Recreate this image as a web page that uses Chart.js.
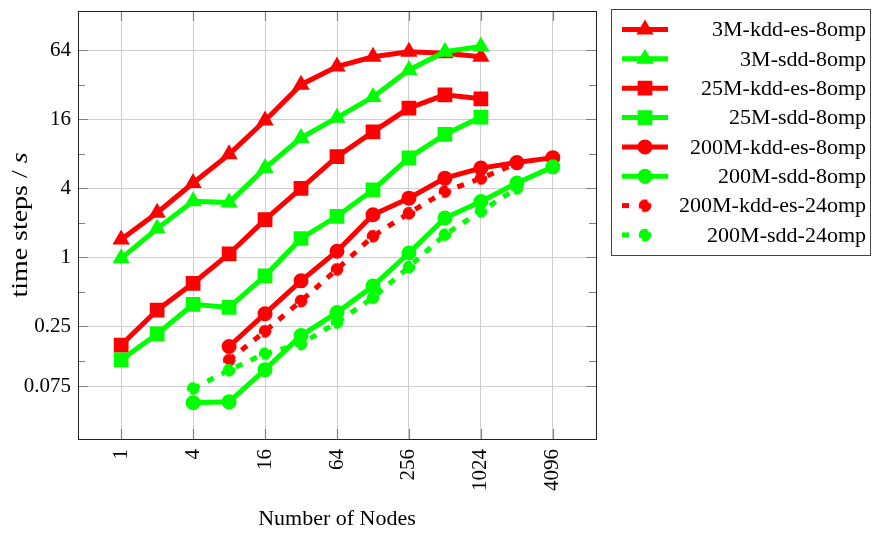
<!DOCTYPE html>
<html>
<head>
<meta charset="utf-8">
<script src="https://cdn.jsdelivr.net/npm/chart.js@4.4.0/dist/chart.umd.min.js"></script>
<style>
  html, body { margin: 0; padding: 0; background: #fff; }
  canvas { display: block; }
</style>
</head>
<body>
<canvas id="scaling" width="872" height="533"></canvas>
<script>
// number of nodes on the x axis
const nodes = [1, 2, 4, 8, 16, 32, 64, 128, 256, 512, 1024, 2048, 4096]

// time steps per second, null where a run is missing
const kdd3M = [1.43, 2.45, 4.45, 7.9, 15.6, 32, 46, 56, 62, 60, 56, null, null]
const sdd3M = [0.98, 1.78, 3.08, 3.0, 6.0, 11.0, 16.5, 25, 43, 62, 69, null, null]
const kdd25M = [0.172, 0.346, 0.594, 1.07, 2.13, 4.0, 7.55, 12.4, 20, 26.1, 24.1, null, null]
const sdd25M = [0.128, 0.215, 0.39, 0.366, 0.69, 1.46, 2.28, 3.87, 7.37, 11.8, 16.7, null, null]
const kdd200M8 = [null, null, null, 0.167, 0.323, 0.624, 1.13, 2.35, 3.28, 4.9, 6.0, 6.7, 7.4]
const sdd200M8 = [null, null, 0.054, 0.055, 0.105, 0.208, 0.33, 0.563, 1.09, 2.2, 3.07, 4.45, 6.15]
const kdd200M24 = [null, null, null, 0.127, 0.227, 0.417, 0.786, 1.53, 2.43, 3.75, 4.88, 6.6, null]
const sdd200M24 = [null, null, 0.072, 0.104, 0.145, 0.176, 0.271, 0.446, 0.824, 1.58, 2.52, 4.0, null]

const seriesNames = [
  '3M-kdd-es-8omp', '3M-sdd-8omp', '25M-kdd-es-8omp', '25M-sdd-8omp',
  '200M-kdd-es-8omp', '200M-sdd-8omp', '200M-kdd-es-24omp', '200M-sdd-24omp'
]

const xTicks = [1, 4, 16, 64, 256, 1024, 4096]
const yTicks = [0.075, 0.125, 0.25, 0.5, 1, 2, 4, 8, 16, 32, 64]
const yLabels = ['0.075', '', '0.25', '', '1', '', '4', '', '16', '', '64']

const RED = '#ff0000'
const GREEN = '#00ff00'
const SERIF = '"Liberation Serif", "Times New Roman", serif'

// filled circle with a dashed outline, like the dashed pgf marks
function notchedMark(color) {
  const c = document.createElement('canvas')
  c.width = 16
  c.height = 16
  const g = c.getContext('2d')
  g.fillStyle = color
  g.beginPath()
  g.arc(8, 8, 5, 0, 2 * Math.PI)
  g.fill()
  g.strokeStyle = color
  g.lineWidth = 2.6
  g.setLineDash([12.5, 3.2])
  g.beginPath()
  g.arc(8, 8, 5, 2.6, 2.6 + 2 * Math.PI)
  g.stroke()
  return c
}

function toPoints(values) {
  const pts = []
  values.forEach((v, i) => {
    if (v !== null) pts.push({ x: nodes[i], y: v })
  })
  return pts
}

function series(i, values, color, style, radius, dashed) {
  return {
    label: seriesNames[i],
    data: toPoints(values),
    borderColor: color,
    backgroundColor: color,
    borderWidth: 5,
    borderDash: dashed ? [7, 9] : [],
    pointStyle: style,
    pointRadius: radius,
    pointBorderWidth: dashed ? 0 : 2,
    pointBackgroundColor: color,
    pointBorderColor: color,
    tension: 0,
    order: 10 - i
  }
}

const datasets = [
  series(0, kdd3M, RED, 'triangle', 8),
  series(1, sdd3M, GREEN, 'triangle', 8),
  series(2, kdd25M, RED, 'rect', 9),
  series(3, sdd25M, GREEN, 'rect', 9),
  series(4, kdd200M8, RED, 'circle', 6.5),
  series(5, sdd200M8, GREEN, 'circle', 6.5),
  series(6, kdd200M24, RED, notchedMark(RED), 6, true),
  series(7, sdd200M24, GREEN, notchedMark(GREEN), 6, true)
]

const isMajorY = v => yLabels[yTicks.indexOf(v)] !== ''

const frame = {
  id: 'frame',
  afterDraw(chart) {
    const ctx = chart.ctx
    const a = chart.chartArea
    const xs = chart.scales.x
    const ys = chart.scales.y
    ctx.save()

    // inward tick marks on all four sides
    ctx.strokeStyle = '#808080'
    ctx.lineWidth = 1.2
    ctx.beginPath()
    xTicks.forEach(v => {
      const px = Math.round(xs.getPixelForValue(v)) + 0.5
      ctx.moveTo(px, a.bottom); ctx.lineTo(px, a.bottom - 10)
      ctx.moveTo(px, a.top); ctx.lineTo(px, a.top + 10)
    })
    yTicks.forEach(v => {
      const py = Math.round(ys.getPixelForValue(v)) + 0.5
      const len = isMajorY(v) ? 10 : 7
      ctx.moveTo(a.left, py); ctx.lineTo(a.left + len, py)
      ctx.moveTo(a.right, py); ctx.lineTo(a.right - len, py)
    })
    ctx.stroke()

    // plot border
    ctx.strokeStyle = '#222'
    ctx.lineWidth = 1
    ctx.strokeRect(Math.round(a.left) + 0.5, Math.round(a.top) + 0.5,
      Math.round(a.right - a.left), Math.round(a.bottom - a.top))

    // axis titles
    ctx.fillStyle = '#000'
    ctx.font = '22px ' + SERIF
    ctx.textAlign = 'center'
    ctx.textBaseline = 'middle'
    ctx.fillText('Number of Nodes', (a.left + a.right) / 2, 519)

    ctx.translate(21, (a.top + a.bottom) / 2)
    ctx.rotate(-Math.PI / 2)
    const head = 'time steps / '
    ctx.font = '23px ' + SERIF
    const w1 = ctx.measureText(head).width
    ctx.font = 'italic 23px ' + SERIF
    const w2 = ctx.measureText('s').width
    ctx.scale(145 / (w1 + w2), 1)
    ctx.textAlign = 'left'
    ctx.font = '23px ' + SERIF
    ctx.fillText(head, -(w1 + w2) / 2, 0)
    ctx.font = 'italic 23px ' + SERIF
    ctx.fillText('s', -(w1 + w2) / 2 + w1, 0)
    ctx.restore()

    // legend
    ctx.save()
    ctx.strokeStyle = '#444'
    ctx.lineWidth = 1
    ctx.strokeRect(611.5, 9.5, 259, 246)
    ctx.font = '22px ' + SERIF
    ctx.textAlign = 'right'
    ctx.textBaseline = 'middle'
    chart.data.datasets.forEach((ds, i) => {
      const y = 29.5 + i * 29.35
      ctx.strokeStyle = ds.borderColor
      ctx.fillStyle = ds.borderColor
      ctx.lineWidth = 5
      ctx.beginPath()
      if (ds.borderDash.length) {
        ctx.moveTo(622, y); ctx.lineTo(629, y)
      } else {
        ctx.moveTo(622, y); ctx.lineTo(668, y)
      }
      ctx.stroke()
      ctx.lineWidth = ds.pointBorderWidth
      Chart.helpers.drawPoint(ctx, {
        pointStyle: ds.pointStyle,
        rotation: 0,
        radius: ds.pointRadius,
        borderWidth: ds.pointBorderWidth
      }, 645, y)
      ctx.fillStyle = '#000'
      ctx.fillText(ds.label, 866, y + 1)
    })
    ctx.restore()
  }
}

new Chart(document.getElementById('scaling'), {
  type: 'line',
  data: { datasets: datasets },
  options: {
    responsive: false,
    animation: false,
    events: [],
    layout: { padding: { top: 8, right: 276, left: 0, bottom: 0 } },
    plugins: {
      legend: { display: false },
      tooltip: { enabled: false }
    },
    scales: {
      x: {
        type: 'logarithmic',
        min: Math.pow(2, -1.2),
        max: Math.pow(2, 13.2),
        afterBuildTicks: s => { s.ticks = xTicks.map(v => ({ value: v })) },
        afterFit: s => {
          s.height = 94
          s.paddingLeft = 0
          s.paddingRight = 0
        },
        border: { display: false },
        grid: { color: '#cfcfcf', lineWidth: 1, drawTicks: false },
        ticks: {
          minRotation: 90,
          maxRotation: 90,
          padding: 10,
          color: '#000',
          font: { family: SERIF, size: 21 },
          callback: v => String(v)
        }
      },
      y: {
        type: 'logarithmic',
        min: Math.pow(2, -5.26),
        max: 140.4,
        afterBuildTicks: s => { s.ticks = yTicks.map(v => ({ value: v })) },
        afterFit: s => {
          s.width = 78
          s.paddingTop = 0
          s.paddingBottom = 0
        },
        border: { display: false },
        grid: {
          color: c => (c.tick && isMajorY(c.tick.value) ? '#cfcfcf' : 'rgba(0,0,0,0)'),
          lineWidth: 1,
          drawTicks: false
        },
        ticks: {
          padding: 7,
          color: '#000',
          font: { family: SERIF, size: 21 },
          callback: (v, i) => yLabels[i]
        }
      }
    }
  },
  plugins: [frame]
})
</script>
</body>
</html>
